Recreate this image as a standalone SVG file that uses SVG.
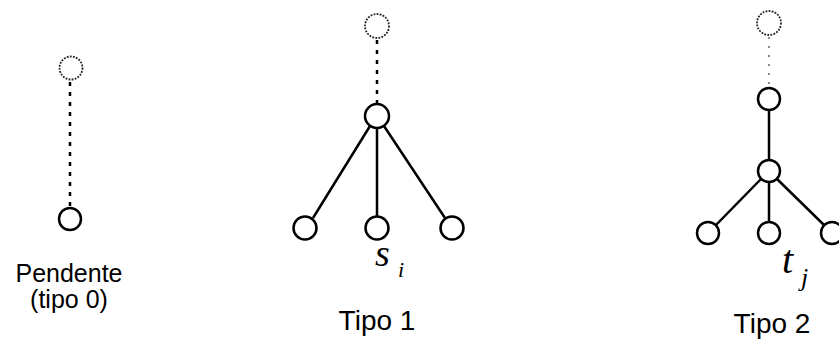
<svg xmlns="http://www.w3.org/2000/svg" width="839" height="346" viewBox="0 0 839 346">
  <style>
    .node { fill: #ffffff; stroke: #000000; stroke-width: 2.5; }
    .ghost { fill: none; stroke: #222222; stroke-width: 1.8; stroke-dasharray: 1.8 1.3; }
    .edge { stroke: #000000; stroke-width: 2.5; fill: none; }
    .dots { stroke: #000000; stroke-width: 2.5; stroke-dasharray: 4 6; fill: none; }
    .dots-faint { stroke: #666666; stroke-width: 1.5; stroke-dasharray: 2 7; fill: none; }
    .label { font-family: "Liberation Sans", Arial, sans-serif; font-size: 24px; fill: #000000; text-anchor: middle; }
    .var { font-family: "Liberation Serif", "Times New Roman", serif; font-style: italic; fill: #000000; }
  </style>

  <!-- edges -->
  <g id="connectors">
    <!-- pendant -->
    <line class="dots" x1="70" y1="82" x2="70" y2="208"/>
    <!-- type 1 -->
    <line class="dots" x1="377" y1="40" x2="377" y2="103"/>
    <line class="edge" x1="370" y1="126" x2="313" y2="218"/>
    <line class="edge" x1="377" y1="129" x2="377" y2="216"/>
    <line class="edge" x1="384" y1="126" x2="445" y2="218"/>
    <!-- type 2 -->
    <line class="dots-faint" x1="769" y1="37" x2="769" y2="87"/>
    <line class="edge" x1="769" y1="110" x2="769" y2="160"/>
    <line class="edge" x1="761" y1="179" x2="716" y2="225"/>
    <line class="edge" x1="769" y1="182" x2="769" y2="222"/>
    <line class="edge" x1="777" y1="179" x2="824" y2="225"/>
  </g>

  <!-- pendant vertex (type 0) -->
  <g id="pendente">
    <circle class="ghost" cx="71" cy="68" r="11.5"/>
    <circle class="node" cx="70" cy="219" r="11"/>
    <text class="label" x="69" y="282" style="font-size:25px">Pendente</text>
    <text class="label" x="69" y="308" style="font-size:25px">(tipo 0)</text>
  </g>

  <!-- type 1 -->
  <g id="tipo1">
    <circle class="ghost" cx="377" cy="26" r="12"/>
    <circle id="t1-root" class="node" cx="377" cy="116" r="12"/>
    <circle id="t1-left" class="node" cx="305" cy="228" r="11.5"/>
    <circle id="t1-mid" class="node" cx="377" cy="228" r="11.5"/>
    <circle id="t1-right" class="node" cx="452" cy="228" r="11.5"/>
    <text class="var" x="375" y="266" font-size="38">s</text>
    <text class="var" x="398" y="277" font-size="22">i</text>
    <text class="label" x="377" y="330" style="font-size:28px">Tipo 1</text>
  </g>

  <!-- type 2 -->
  <g id="tipo2">
    <circle class="ghost" cx="769" cy="23" r="12"/>
    <circle id="t2-a" class="node" cx="769" cy="99" r="11"/>
    <circle id="t2-b" class="node" cx="769" cy="171" r="11"/>
    <circle id="t2-left" class="node" cx="708" cy="233" r="11"/>
    <circle id="t2-mid" class="node" cx="769" cy="233" r="11"/>
    <circle id="t2-right" class="node" cx="832" cy="233" r="11"/>
    <text class="var" x="782" y="273" font-size="40">t</text>
    <text class="var" x="801" y="286" font-size="26">j</text>
    <text class="label" x="772" y="333" style="font-size:28px">Tipo 2</text>
  </g>
</svg>
